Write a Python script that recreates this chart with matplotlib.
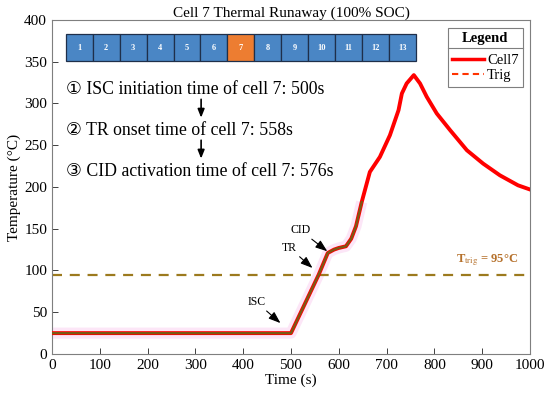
import matplotlib
matplotlib.use("Agg")
import matplotlib.pyplot as plt
from matplotlib.patches import Rectangle
from matplotlib.lines import Line2D

plt.rcParams['font.family'] = ['Liberation Serif', 'DejaVu Sans']
plt.rcParams['mathtext.fontset'] = 'stix'

# Data
time_s = [0, 500, 558, 577, 590, 600, 615, 626, 636, 648, 665, 686, 707, 725,
          732, 742, 757, 770, 784, 805, 833, 868, 902, 937, 975, 1000]
temp_c = [25, 25, 95, 121, 125, 127, 129, 138, 153, 182, 218, 236, 262, 292,
          312, 324, 334, 324, 308, 288, 268, 244, 228, 214, 202, 197]
early_end = 10  # points up to ~648 s overlaid in brown
trig_temp = 95
cells = [str(i) for i in range(1, 14)]
target_cell = "7"
steps = ["\u2460 ISC initiation time of cell 7: 500s",
         "\u2461 TR onset time of cell 7: 558s",
         "\u2462 CID activation time of cell 7: 576s"]
xticks = list(range(0, 1001, 100))
yticks = list(range(0, 401, 50))

fig = plt.figure(figsize=(5.5, 3.99), dpi=100)
ax = fig.add_axes([0.0945, 0.1128, 0.8691, 0.8371])

# faint pink highlight
ax.plot(time_s[:early_end], temp_c[:early_end], color='#fce6f7', lw=8,
        solid_capstyle='butt', zorder=1)
ax.plot(time_s, temp_c, color='#ff0000', lw=2.8, zorder=3)
ax.plot(time_s[:early_end], temp_c[:early_end], color='#7a5a14', lw=1.6, zorder=4)
ax.axhline(trig_temp, color='#9c7a1e', lw=1.6, ls=(0, (4.5, 3.5)), zorder=2)

ax.set_xlim(0, 1000)
ax.set_ylim(0, 400)
ax.set_xticks(xticks)
ax.set_yticks(yticks)
ax.tick_params(direction='in', labelsize=11, colors='#404040', labelcolor='black',
               length=4, width=0.7, top=False, right=False)
for sp in ax.spines.values():
    sp.set_color('#7f7f7f')
    sp.set_linewidth(0.8)
ax.set_xlabel('Time (s)', fontsize=11, labelpad=1)
ax.set_ylabel('Temperature (\u00b0C)', fontsize=11, labelpad=2)
ax.set_title('Cell 7 Thermal Runaway (100% SOC)', fontsize=11, pad=2)

# cell strip
x0, w = 28.7, 56.4
for i, c in enumerate(cells):
    fc = '#ed7d31' if c == target_cell else '#4a86c5'
    ax.add_patch(Rectangle((x0 + i * w, 351), w, 32, facecolor=fc,
                           edgecolor='#1f2f4a', lw=0.9, zorder=5))
    ax.text(x0 + i * w + w / 2, 367, c, color='white', fontsize=6,
            fontweight='bold', ha='center', va='center', zorder=6)

# step texts
ys = [317, 268, 219]
for s, y in zip(steps, ys):
    ax.text(30, y, s, fontsize=12.8, ha='left', va='center', zorder=6)
for ya, yb in [(305, 283), (256, 234)]:
    ax.annotate('', xy=(312, yb), xytext=(312, ya),
                arrowprops=dict(arrowstyle='-|>,head_length=0.5,head_width=0.2',
                                color='black', lw=1.2, mutation_scale=10,
                                shrinkA=0, shrinkB=0))

# annotations
arr = dict(arrowstyle='-|>,head_length=0.6,head_width=0.22', color='black',
           lw=0.8, mutation_scale=12, shrinkA=0, shrinkB=0)
ax.annotate('ISC', xy=(478, 37), xytext=(428, 62), fontsize=8.5,
            ha='center', va='center', arrowprops=arr)
ax.annotate('TR', xy=(545, 103), xytext=(497, 127), fontsize=8.5,
            ha='center', va='center', arrowprops=arr)
ax.annotate('CID', xy=(576, 123), xytext=(520, 148), fontsize=8.5,
            ha='center', va='center', arrowprops=arr)

ax.text(845, 112, r'T$_{\mathrm{trig}}$ = 95°C', color='#b5702a', fontsize=9,
        fontweight='bold', ha='left', va='center')

# legend
handles = [Line2D([], [], color='#ff0000', lw=2.5),
           Line2D([], [], color='#ff3300', lw=1.5, ls=(0, (3, 2)))]
leg = ax.legend(handles, ['Cell7', 'Trig'], title='Legend', loc='upper right',
                bbox_to_anchor=(0.985, 0.976), borderaxespad=0,
                fontsize=10.5, handlelength=2.2,
                handletextpad=0.2, borderpad=0.3, labelspacing=0.15,
                fancybox=False, edgecolor='#7f7f7f', framealpha=1)
leg.get_title().set_fontweight('bold')
leg.get_title().set_fontsize(10.5)
leg._legend_box.sep = 6
leg.get_frame().set_linewidth(0.8)

fig.canvas.draw()
lb = leg.get_window_extent()
tb = leg.get_title().get_window_extent()
ysep = (tb.y0 - 2.5) / fig.bbox.height
fig.add_artist(Line2D([lb.x0 / fig.bbox.width, lb.x1 / fig.bbox.width], [ysep, ysep],
                      color='#7f7f7f', lw=0.8, transform=fig.transFigure))

fig.savefig('out.png', dpi=100)
